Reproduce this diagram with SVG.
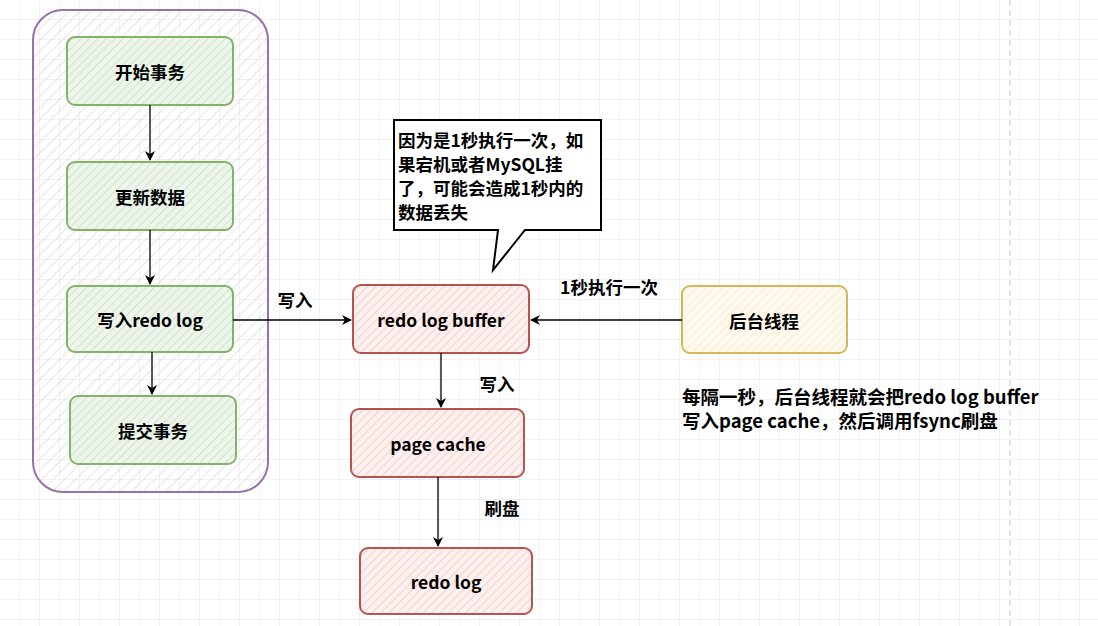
<svg xmlns="http://www.w3.org/2000/svg" width="1098" height="626" viewBox="0 0 1098 626">
<defs>
<pattern id="grid" width="20" height="20" patternUnits="userSpaceOnUse"><path d="M20 0V20H0" fill="none" stroke="#e2e2e2" stroke-width="1"/></pattern>
<pattern id="hatch" width="8" height="8" patternUnits="userSpaceOnUse" patternTransform="rotate(45)"><line x1="0" y1="0" x2="0" y2="8" stroke="#dddddd" stroke-width="1.5"/></pattern>
<pattern id="hg" width="6" height="6" patternUnits="userSpaceOnUse" patternTransform="rotate(45)"><rect width="6" height="6" fill="#eef6ec"/><line x1="0" y1="0" x2="0" y2="6" stroke="#cfe3cb" stroke-width="2"/></pattern>
<pattern id="hr" width="6" height="6" patternUnits="userSpaceOnUse" patternTransform="rotate(45)"><rect width="6" height="6" fill="#fdf1f0"/><line x1="0" y1="0" x2="0" y2="6" stroke="#f4cfcc" stroke-width="2"/></pattern>
<pattern id="hy" width="6" height="6" patternUnits="userSpaceOnUse" patternTransform="rotate(45)"><rect width="6" height="6" fill="#fffaf0"/><line x1="0" y1="0" x2="0" y2="6" stroke="#fbeccb" stroke-width="2"/></pattern>
<marker id="ah" markerWidth="10" markerHeight="10" refX="9" refY="5" orient="auto" markerUnits="userSpaceOnUse"><path d="M0 0L10 5L0 10L3 5Z" fill="#000"/></marker>
</defs>
<style>
text{font-family:"Noto Sans CJK SC","Liberation Sans",sans-serif;font-weight:bold;font-size:17.5px;fill:#000}
.c{text-anchor:middle;dominant-baseline:central}
.k{font-size:17.5px}
.b{font-size:18.5px}
.g{fill:url(#hg);stroke:#82b366;stroke-width:2}
.r{fill:url(#hr);stroke:#b85450;stroke-width:2}
.y{fill:url(#hy);stroke:#d6b656;stroke-width:2}
.e{stroke:#000;stroke-width:1.3;fill:none;marker-end:url(#ah)}
</style>
<rect width="1098" height="626" fill="#fff"/>
<rect width="1098" height="626" fill="url(#grid)"/>
<line x1="1010" y1="0" x2="1010" y2="626" stroke="#ccc" stroke-dasharray="6 4"/>
<g id="container"><rect x="33" y="10" width="235" height="482" rx="30" fill="url(#hatch)" stroke="#9673a6" stroke-width="2"/></g>
<g id="n1"><rect class="g" x="67" y="37" width="166" height="68" rx="8"/><text class="c" x="150" y="71">开始事务</text></g>
<g id="n2"><rect class="g" x="67" y="162" width="166" height="68" rx="8"/><text class="c" x="150" y="196">更新数据</text></g>
<g id="n3"><rect class="g" x="67" y="286" width="166" height="66" rx="8"/><text class="c" x="150" y="319">写入redo log</text></g>
<g id="n4"><rect class="g" x="70" y="396" width="166" height="68" rx="8"/><text class="c" x="153" y="430">提交事务</text></g>
<g id="n5"><rect class="r" x="353" y="285" width="176" height="68" rx="8"/><text class="c" x="441" y="319">redo log buffer</text></g>
<g id="n6"><rect class="r" x="351" y="409" width="173" height="68" rx="8"/><text class="c" x="438" y="443">page cache</text></g>
<g id="n7"><rect class="r" x="360" y="548" width="172" height="66" rx="8"/><text class="c" x="446" y="581">redo log</text></g>
<g id="n8"><rect class="y" x="682" y="286" width="165" height="67" rx="8"/><text class="c" x="764" y="320">后台线程</text></g>
<g id="callout"><path d="M394 120H601V230H525L493 270L498 230H394Z" fill="#fff" stroke="#000" stroke-width="2"/>
<text class="k" x="398" y="147">因为是1秒执行一次，如</text><text class="k" x="398" y="171">果宕机或者MySQL挂</text><text class="k" x="398" y="195">了，可能会造成1秒内的</text><text class="k" x="398" y="219">数据丢失</text></g>
<g id="connectors">
<path class="e" d="M150 105V160"/><path class="e" d="M150 230V284"/><path class="e" d="M152 352V394"/>
<path class="e" d="M233 320H351"/><path class="e" d="M682 320H531"/><path class="e" d="M441 353V407"/><path class="e" d="M438 477V546"/>
</g>
<g id="labels">
<text class="c" x="295" y="299">写入</text><text class="c" x="609" y="286">1秒执行一次</text>
<text class="c" x="497" y="383">写入</text><text class="c" x="502" y="507">刷盘</text>
<text class="b" x="682" y="404">每隔一秒，后台线程就会把redo log buffer</text><text class="b" x="682" y="428">写入page cache，然后调用fsync刷盘</text>
</g>
</svg>
